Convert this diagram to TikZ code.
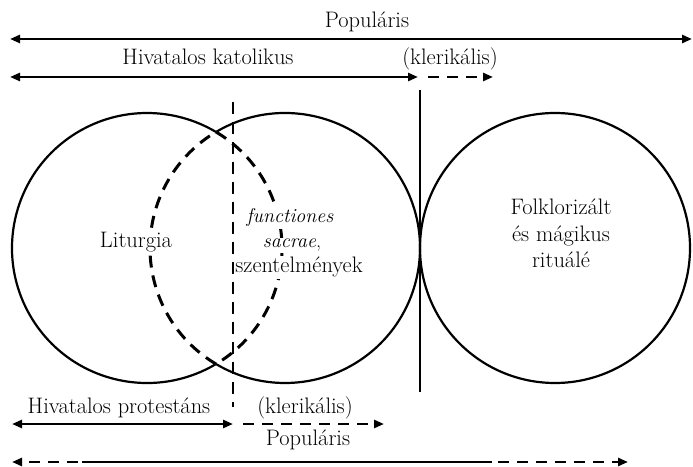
\documentclass[tikz,border=0pt]{standalone}
\usetikzlibrary{arrows.meta}
\begin{document}
\begin{tikzpicture}[x=1bp,y=-1bp,
  lbl/.style={font=\fontsize{22.5}{27}\selectfont, inner sep=0pt, anchor=base},
  inl/.style={lbl, fill=white, inner sep=1.5bp},
  itl/.style={inl, font=\fontsize{20}{24}\selectfont\itshape},
  ring/.style={line width=2.2bp},
  arr/.style={line width=2.6bp, -{Triangle[length=10bp,width=8bp]}},
  both/.style={line width=2.6bp, {Triangle[length=10bp,width=8bp]}-{Triangle[length=10bp,width=8bp]}},
  dsh/.style={dash pattern=on 11bp off 8bp},
  lens/.style={line width=3bp, dash pattern=on 12bp off 8bp},
  sep/.style={line width=2.4bp}]
\useasboundingbox (0,0) rectangle (693,467);

% circle centres
\coordinate (cL) at (147,248);
\coordinate (cM) at (285,248);
\coordinate (cR) at (555,248);
% outer outlines (solid)
\draw[ring] (cL) ++(59.25:135) arc[start angle=59.25, end angle=300.75, radius=135];
\draw[ring] (cM) ++(-120.75:135) arc[start angle=-120.75, end angle=120.75, radius=135];
\draw[ring] (cR) circle[radius=135];
% inner arcs (dashed lens)
\draw[lens] (cL) ++(-59.25:135) arc[start angle=-59.25, end angle=59.25, radius=135];
\draw[lens] (cM) ++(120.75:135) arc[start angle=120.75, end angle=239.25, radius=135];

% separators
\coordinate (vdTop) at (233,102); \coordinate (vdBot) at (233,407);
\draw[sep, dash pattern=on 12bp off 8bp] (vdTop) -- (vdBot);
\coordinate (vsTop) at (420,90); \coordinate (vsBot) at (420,392);
\draw[sep] (vsTop) -- (vsBot);

% texts inside
\node[inl] (lit) at (136,248) {Liturgia};
\node[itl] (fs1) at (290,223) {functiones};
\node[itl] (fs2) at (292,248) {sacrae\upshape ,};
\node[inl] (fs3) at (299,273) {szentelmények};
\node[inl] (fk1) at (561,215) {Folklorizált};
\node[inl] (fk2) at (561,242) {és mágikus};
\node[inl] (fk3) at (561,268) {rituálé};

% top labels and arrows
\node[lbl] (popT) at (367,28) {Populáris};
\coordinate (pA) at (10,39); \coordinate (pB) at (692,39);
\draw[both] (pA) -- (pB);

\node[lbl] (hk) at (208,65) {Hivatalos katolikus};
\node[lbl] (klT) at (450,65) {(klerikális)};
\coordinate (kA) at (10,77); \coordinate (kB) at (418,77);
\coordinate (kC) at (428,77); \coordinate (kD) at (493,77);
\draw[both] (kA) -- (kB);
\draw[arr, dsh] (kC) -- (kD);

% bottom labels and arrows
\node[lbl] (hp) at (119,413) {Hivatalos protestáns};
\node[lbl] (klB) at (305,413) {(klerikális)};
\coordinate (bA) at (12,424); \coordinate (bB) at (233,424);
\coordinate (bC) at (243,424); \coordinate (bD) at (384,424);
\draw[both] (bA) -- (bB);
\draw[arr, dsh] (bC) -- (bD);

\node[lbl] (popB) at (308,445) {Populáris};
\coordinate (cA) at (12,462); \coordinate (cA2) at (78,462);
\coordinate (cB) at (82,462); \coordinate (cC) at (492,462);
\coordinate (cD) at (498,462); \coordinate (cE) at (628,462);
\draw[arr, dsh] (cA2) -- (cA);
\draw[line width=2.6bp] (cB) -- (cC);
\draw[arr, dsh] (cD) -- (cE);
\end{tikzpicture}
\end{document}
